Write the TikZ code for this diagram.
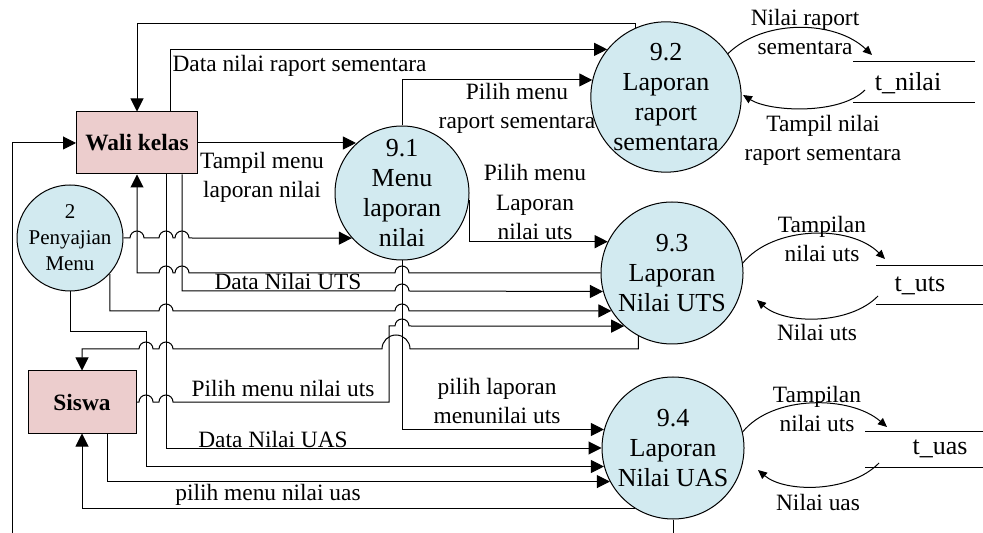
\documentclass[tikz,border=0pt]{standalone}
\usepackage{fontspec}
\setmainfont{Liberation Serif}
\usetikzlibrary{arrows.meta}

\definecolor{procfill}{RGB}{210,234,240}
\definecolor{entityfill}{RGB}{236,205,205}

%% line hops over crossing lines (x of crossing, y of line)
\newcommand*{\hopR}[2]{-- ({#1-7},#2) arc[start angle=180,end angle=360,radius=7]}
\newcommand*{\hopL}[2]{-- ({#1+7},#2) arc[start angle=0,end angle=-180,radius=7]}
\newcommand*{\bighopL}[2]{-- ({#1+14},#2) arc[start angle=0,end angle=-180,radius=14]}

\begin{document}
\begin{tikzpicture}
        [x=0.5pt,y=-0.5pt,line width=0.5pt,
          procdecorate/.style={shape=circle,draw,fill=procfill,inner sep=0pt,
            align=center,font=\fontsize{13}{15}\selectfont},%
          entitydecorate/.style={shape=rectangle,draw,fill=entityfill,
            minimum height=31pt,font=\fontsize{11.7}{14}\selectfont\bfseries},%
          storedecorate/.style={inner sep=0pt,font=\fontsize{13}{15}\selectfont},%
          labeldecorate/.style={align=center,inner sep=0pt,
            font=\fontsize{11.7}{14.5}\selectfont},%
          flowdecorate/.style={-{Triangle[length=6.5pt,width=6.5pt]}},%
          curvedecorate/.style={-{Triangle[length=4.5pt,width=4pt]}}]
        \useasboundingbox (0,0) rectangle (983,533);
        %% processes
        \foreach \nodename/\x/\y/\size/\txt in {p91/402/193/67pt/{9.1\\Menu\\laporan\\nilai},
          p92/666/97/70pt/{9.2\\Laporan\\raport\\sementara},
          p93/672/273/71pt/{9.3\\Laporan\\Nilai UTS},
          p94/673/448/71pt/{9.4\\Laporan\\Nilai UAS}}
        {
          \node (\nodename) at (\x,\y) [procdecorate,minimum size=\size] {\txt};
        }
        \node (pm) at (70,238) [procdecorate,minimum size=50pt,
          font=\fontsize{10.5}{13}\selectfont] {2\\Penyajian\\Menu};
        %% external entities
        \node (wk) at (137,143) [entitydecorate,minimum width=60.5pt] {Wali kelas};
        \node (sw) at (82,402) [entitydecorate,minimum width=54pt] {Siswa};
        %% data stores
        \node (snilai) at (908,83) [storedecorate] {t\_nilai};
        \node (suts) at (920,286) [storedecorate] {t\_uts};
        \node (suas) at (940,449) [storedecorate] {t\_uas};
        \draw (853,62) -- (975,62) (853,103) -- (975,103);
        \draw (876,266) -- (983,266) (876,305) -- (983,305);
        \draw (865,431) -- (983,431) (865,467) -- (983,467);
        \coordinate (nilaiin) at (872,55);
        \coordinate (nilaiout) at (865,90);
        \coordinate (nilaiback) at (743,95);
        \coordinate (utsin) at (885,259);
        \coordinate (utsout) at (878,296);
        \coordinate (utsback) at (757,300);
        \coordinate (uasin) at (887,427);
        \coordinate (uasout) at (879,463);
        \coordinate (uasback) at (758,470);
        %% flows to and from the stores
        \draw[curvedecorate] (p92.35) .. controls +(36,-35) and +(-37,-35) .. (nilaiin);
        \draw[curvedecorate] (nilaiout) .. controls +(-25,25) and +(27,17) .. (nilaiback);
        \draw[curvedecorate] (p93.8) .. controls +(30,-37) and +(-35,-35) .. (utsin);
        \draw[curvedecorate] (utsout) .. controls +(-28,29) and +(28,25) .. (utsback);
        \draw[curvedecorate] (p94.13) .. controls +(30,-37) and +(-37,-32) .. (uasin);
        \draw[curvedecorate] (uasout) .. controls +(-29,30) and +(27,23) .. (uasback);
        \node[labeldecorate] (lnilaiin) at (805,32) {Nilai raport\\sementara};
        \node[labeldecorate] (lnilaiout) at (823,140) {Tampil nilai\\raport sementara};
        \node[labeldecorate] (lutsin) at (822,239) {Tampilan\\nilai uts};
        \node[labeldecorate] (lutsout) at (817,332) {Nilai uts};
        \node[labeldecorate] (luasin) at (817,409) {Tampilan\\nilai uts};
        \node[labeldecorate] (luasout) at (818,502) {Nilai uas};
        %% flows between entities and processes
        \draw[flowdecorate] (p92.114) -- (p92.114 |- 0,24) -| (wk.north);
        \draw[flowdecorate] (wk.north -| 170,0) |- (p92.141);
        \draw[flowdecorate] (wk.east) -- (p91.133 |- wk.east);
        \draw[flowdecorate] (pm.east) \hopR{137}{238} \hopR{166}{238} \hopR{182}{238} -- (p91.222);
        \draw[flowdecorate] (p91.north) |- (p92.167);
        \draw[flowdecorate] (p91.354) |- (p93.154);
        \draw[flowdecorate] (p93.west) \hopL{402}{273} \hopL{182}{273} \hopL{166}{273} -| (wk.south);
        \draw[flowdecorate] (wk.south -| 182,0) -- (182,291) \hopR{402}{291} -- (p93.195);
        \draw[flowdecorate] (pm.318) -- (pm.318 |- 0,311) \hopR{166}{311} \hopR{402}{311} -- (p93.212);
        \draw[flowdecorate] (sw.east) \hopR{146}{402} \hopR{166}{402} -- (389,402) -- (389,326)
          \hopR{402}{326} -- (p93.228);
        \draw[flowdecorate] (p93.242) -- (p93.242 |- 0,349) \bighopL{396}{349} \hopL{166}{349}
          \hopL{146}{349} -| (sw.north);
        \draw[flowdecorate] (pm.south) |- (146,332) |- (p94.195);
        \draw[flowdecorate] (p91.south) |- (p94.165);
        \draw[flowdecorate] (wk.south -| 166,0) |- (p94.west);
        \draw[flowdecorate] (sw.south -| 107,0) |- (p94.208);
        \draw[flowdecorate] (p94.238) -| (sw.south);
        \draw[flowdecorate] (p94.south) -- (p94.south |- 0,560) -| (wk.west -| 12,0) -- (wk.west);
        %% flow labels
        \node[labeldecorate,anchor=west] (ldata) at (172,66) {Data nilai raport sementara};
        \node[labeldecorate] (ltampil) at (262,177) {Tampil menu\\laporan nilai};
        \node[labeldecorate] (lpilihraport) at (517,108) {Pilih menu\\raport sementara};
        \node[labeldecorate] (lpilihuts) at (535,202) {Pilih menu\\Laporan\\nilai uts};
        \node[labeldecorate] (ldatauts) at (288,281) {Data Nilai UTS};
        \node[labeldecorate] (lsiswauts) at (283,388) {Pilih menu nilai uts};
        \node[labeldecorate] (lpilihlap) at (497,401) {pilih laporan\\menunilai uts};
        \node[labeldecorate] (ldatauas) at (273,439) {Data Nilai UAS};
        \node[labeldecorate] (lsiswauas) at (268,495) {pilih menu nilai uas};
\end{tikzpicture}
\end{document}
